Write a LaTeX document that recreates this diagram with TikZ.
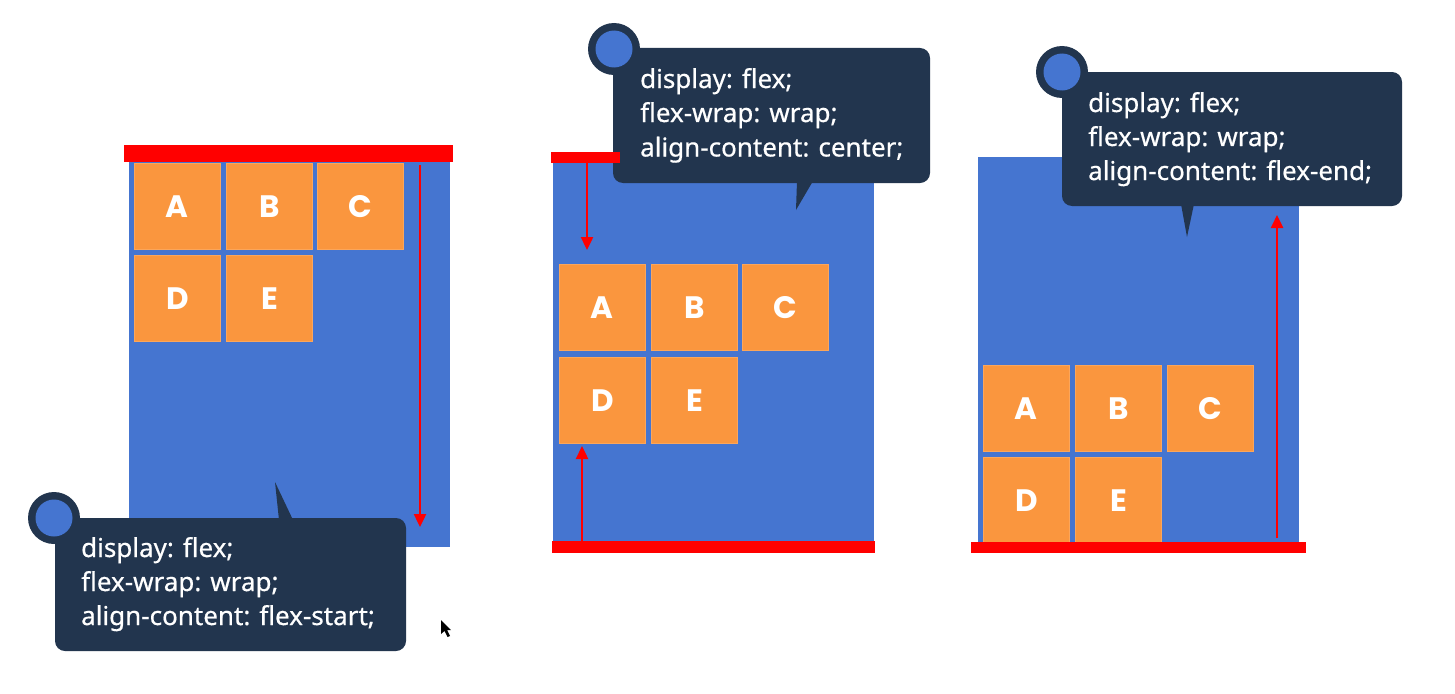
\documentclass[tikz,border=0pt]{standalone}
\usepackage{fontspec}
\newfontfamily\calfont{Noto Sans}[FakeBold=0.5]
\newfontfamily\letfont{Poppins}
\usetikzlibrary{arrows.meta}
\definecolor{flexblue}{RGB}{69,117,208}
\definecolor{boxorange}{RGB}{250,150,62}
\definecolor{calldark}{RGB}{34,53,78}
\definecolor{barred}{RGB}{255,0,0}
\begin{document}
\begin{tikzpicture}[x=1pt,y=-1pt,
  container/.style={fill=flexblue},
  item/.style={fill=boxorange, draw=boxorange!85!white, line width=0.8pt, minimum width=86pt, minimum height=86pt, inner sep=0pt, anchor=north west, text=white, font=\letfont\bfseries\fontsize{31}{31}\selectfont},
  bar/.style={fill=barred},
  callbox/.style={fill=calldark, rounded corners=10pt},
  calltip/.style={fill=calldark},
  calltext/.style={anchor=base west, inner sep=0pt, text=white, font=\calfont\fontsize{26}{34}\selectfont},
  redarrow/.style={draw=barred, line width=2.4pt, -{Triangle[width=12pt,length=13pt]}},
]
\useasboundingbox (0,0) rectangle (1455,693);
\fill[white] (0,0) rectangle (1455,693);

% ---------- Panel 1: flex-start ----------
\fill[container] (129,155) rectangle (450,547);
\node[item] (a1) at (134,163) {A};
\node[item] (b1) at (226,163) {B};
\node[item] (c1) at (317,163) {C};
\node[item] (d1) at (134,255) {D};
\node[item] (e1) at (226,255) {E};
\fill[bar] (124,145) rectangle (453,162);
\coordinate (p1s) at (420,165);
\coordinate (p1e) at (420,527);
\draw[redarrow] (p1s) -- (p1e);
\fill[callbox] (55,518) rectangle (406,651);
\fill[calltip] (279,520) -- (275,482) -- (293,520) -- cycle;
\fill[calldark] (54,518) circle[radius=26pt];
\fill[flexblue] (54,518) circle[radius=18.5pt];
\node[calltext] (t1a) at (81,557) {display: flex;};
\node[calltext] (t1b) at (81,591) {flex-wrap: wrap;};
\node[calltext] (t1c) at (81,625) {align-content: flex-start;};
% cursor
\fill[black] (441,620) -- (441,634) -- (444.5,631) -- (447.5,637) -- (450,636) -- (447,630) -- (451,630) -- cycle;

% ---------- Panel 2: center ----------
\fill[container] (553,157) rectangle (874,546);
\node[item] (a2) at (559,264) {A};
\node[item] (b2) at (651,264) {B};
\node[item] (c2) at (742,264) {C};
\node[item] (d2) at (559,357) {D};
\node[item] (e2) at (651,357) {E};
\fill[callbox] (613,48) rectangle (930,183);
\fill[calltip] (797,181) -- (796,210) -- (813,181) -- cycle;
\fill[calldark] (614,49) circle[radius=26pt];
\fill[flexblue] (614,49) circle[radius=18.5pt];
\node[calltext] (t2a) at (640,88) {display: flex;};
\node[calltext] (t2b) at (640,122) {flex-wrap: wrap;};
\node[calltext] (t2c) at (640,156.5) {align-content: center;};
\fill[bar] (551,152) rectangle (620,163);
\fill[bar] (552,541) rectangle (875,553);
\coordinate (p2ds) at (587,163);
\coordinate (p2de) at (587,250);
\draw[redarrow] (p2ds) -- (p2de);
\coordinate (p2us) at (582,541);
\coordinate (p2ue) at (582,446);
\draw[redarrow] (p2us) -- (p2ue);

% ---------- Panel 3: flex-end ----------
\fill[container] (978,157) rectangle (1299,547);
\node[item] (a3) at (983,365) {A};
\node[item] (b3) at (1075,365) {B};
\node[item] (c3) at (1167,365) {C};
\node[item] (d3) at (983,457) {D};
\node[item] (e3) at (1075,457) {E};
\fill[callbox] (1062,72) rectangle (1402,206);
\fill[calltip] (1181,204) -- (1187,237) -- (1194,204) -- cycle;
\fill[calldark] (1062,72) circle[radius=26pt];
\fill[flexblue] (1062,72) circle[radius=18.5pt];
\node[calltext] (t3a) at (1088,112) {display: flex;};
\node[calltext] (t3b) at (1088,146) {flex-wrap: wrap;};
\node[calltext] (t3c) at (1088,180) {align-content: flex-end;};
\fill[bar] (971,542) rectangle (1306,553);
\coordinate (p3s) at (1277,538);
\coordinate (p3e) at (1277,215);
\draw[redarrow] (p3s) -- (p3e);
\end{tikzpicture}
\end{document}
